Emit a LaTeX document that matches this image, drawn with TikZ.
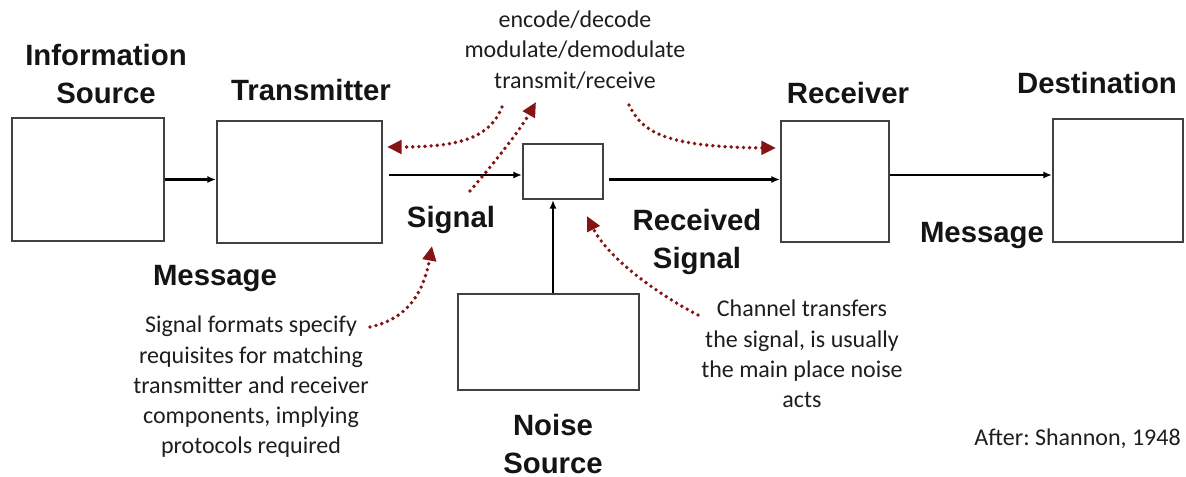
\documentclass[tikz,border=0pt]{standalone}
\usepackage{fontspec}
\setmainfont{Carlito}
\newfontfamily\headfont{Liberation Sans}
\usetikzlibrary{arrows.meta}
\definecolor{dotred}{RGB}{135,20,20}
\definecolor{boxgray}{RGB}{65,65,65}
\definecolor{notegray}{RGB}{30,30,30}
\frenchspacing

\begin{document}
\begin{tikzpicture}[x=0.75pt,y=-0.75pt,
  blockbox/.style={draw=boxgray, line width=1.6pt, inner sep=0pt, fill=white},
  flow/.style={line width=1.7pt, -{Latex[length=6.5pt,width=5.5pt]}},
  hint/.style={dotred, line width=2.9pt, line cap=round, dash pattern=on 0pt off 4.6pt,
    -{Triangle[length=11pt,width=10pt]}},
  head/.style={font=\headfont\bfseries\fontsize{22}{28}\selectfont, text=black!92,
    align=center, inner sep=0pt},
  note/.style={font=\fontsize{18}{22.7}\selectfont, text=notegray, align=center, inner sep=0pt},
]
\useasboundingbox (0,0) rectangle (1186,477);

% blocks of the communication chain
\node[blockbox, minimum width=152*0.75pt, minimum height=123*0.75pt] (src) at (88,179.5) {};
\node[blockbox, minimum width=165*0.75pt, minimum height=122*0.75pt] (tx) at (299.5,182) {};
\node[blockbox, minimum width=80*0.75pt, minimum height=55*0.75pt] (ch) at (563,171.5) {};
\node[blockbox, minimum width=108*0.75pt, minimum height=121*0.75pt] (rx) at (835,181.5) {};
\node[blockbox, minimum width=130*0.75pt, minimum height=123*0.75pt] (dst) at (1118,180.5) {};
\node[blockbox, minimum width=181*0.75pt, minimum height=96*0.75pt] (noise) at (548.5,342) {};

% block titles
\node[head] (lsrc) at (106,74) {Information\\Source};
\node[head, anchor=base] (ltx) at (311,100.5) {Transmitter};
\node[head, anchor=base] (lrx) at (848,103.5) {Receiver};
\node[head, anchor=base] (ldst) at (1097,93.5) {Destination};
\node[head, anchor=base] (lsig) at (451,227.5) {Signal};
\node[head] (lrs) at (697,242) {Received\\Signal};
\node[head, anchor=base] (lmsg1) at (215,285.5) {Message};
\node[head, anchor=base] (lmsg2) at (982,242.5) {Message};
\node[head] (lns) at (553,444) {Noise\\Source};

% signal flow
\draw[flow] (src.east) -- (src.east -| tx.west);
\coordinate (sigA) at ([shift={(6,-7)}]tx.east);
\draw[flow] (sigA) -- (sigA -| ch.west);
\coordinate (rsA) at ([shift={(5,8)}]ch.east);
\draw[flow] (rsA) -- (rsA -| rx.west);
\coordinate (msgA) at ([shift={(0,-6.5)}]rx.east);
\draw[flow] (msgA) -- (msgA -| dst.west);
\coordinate (nzA) at ([shift={(4.5,0)}]noise.north);
\draw[flow] (nzA) -- (nzA |- ch.south);

% annotations
\node[note] (ntop) at (575,50) {encode/decode\\modulate/demodulate\\transmit/receive};
\node[note] (nfmt) at (251,387) {Signal formats specify\\requisites for matching\\transmitter and receiver\\components, implying\\protocols required};
\node[note] (nch) at (802,354) {Channel transfers\\the signal, is usually\\the main place noise\\acts};
\node[note, anchor=east] (cite) at (1181,439) {After: Shannon, 1948};

% dotted pointers
\coordinate (p1s) at (502,107);  \coordinate (p1e) at (387,147);
\coordinate (p2s) at (470,191);  \coordinate (p2e) at (536,102);
\coordinate (p3s) at (629,105);  \coordinate (p3e) at (776,148);
\coordinate (p4s) at (370,327);  \coordinate (p4e) at (432,246);
\coordinate (p5s) at (698,315);  \coordinate (p5e) at (587,216);
\draw[hint] (p1s) .. controls (490,137) and (462,147) .. (p1e);
\draw[hint] (p2s) .. controls (495,162) and (520,130) .. (p2e);
\draw[hint] (p3s) .. controls (642,132) and (665,147) .. (p3e);
\draw[hint] (p4s) .. controls (402,320) and (422,300) .. (p4e);
\draw[hint] (p5s) .. controls (668,300) and (610,262) .. (p5e);
\end{tikzpicture}
\end{document}
